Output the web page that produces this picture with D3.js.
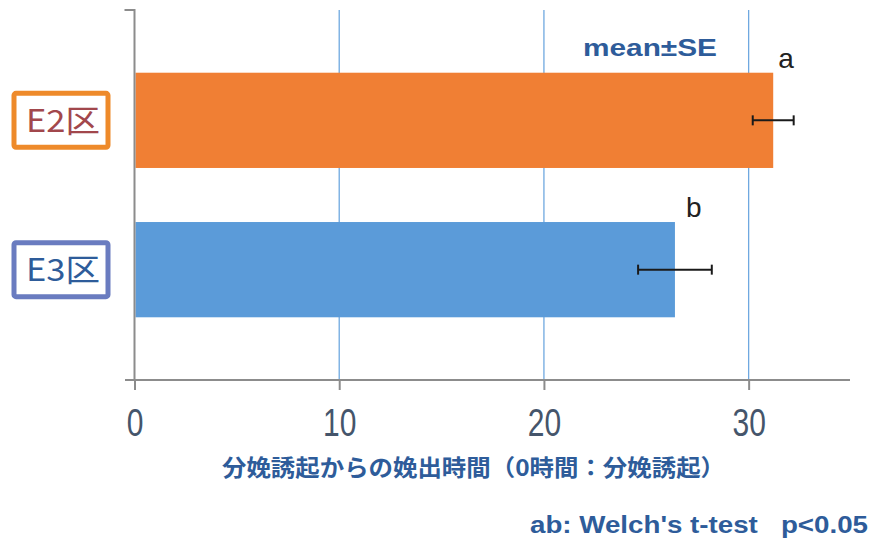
<!DOCTYPE html>
<html>
<head>
<meta charset="utf-8">
<script src="https://cdn.jsdelivr.net/npm/d3@7"></script>
<style>
  body { margin: 0; background: #fff; }
  svg { display: block; }
</style>
</head>
<body>
<svg id="chart" width="874" height="539"></svg>
<script>
// data
var categories = ["E2区", "E3区"],
  means = [31.2, 26.4],
  errors = [1.0, 1.8],
  letters = ["a", "b"],
  xTicks = [0, 10, 20, 30];

var barColors = ["#f07f34", "#5b9bd9"],
  boxColors = ["#ee8a2a", "#6a7cc0"],
  labelColors = ["#a2474c", "#2e5c9a"],
  cjk = "'Noto Sans CJK JP', 'Noto Sans', sans-serif";

var svg = d3.select("#chart"),
  plotTop = 10,
  plotBottom = 380,
  x = d3.scaleLinear().domain([0, 35]).range([134.5, 851]),
  y = d3.scaleBand()
    .domain(categories)
    .range([plotTop, plotBottom])
    .paddingInner(0.362)
    .paddingOuter(0.42);

// grid lines
svg.append("g")
  .selectAll("line")
  .data(xTicks.filter(function(d) { return d > 0; }))
  .enter().append("line")
  .attr("x1", function(d) { return x(d); })
  .attr("x2", function(d) { return x(d); })
  .attr("y1", plotTop)
  .attr("y2", plotBottom)
  .attr("stroke", "#6fa8e0")
  .attr("stroke-width", 1.3);

// bars
svg.append("g")
  .selectAll("rect")
  .data(categories)
  .enter().append("rect")
  .attr("x", x(0) + 1)
  .attr("y", function(d) { return y(d); })
  .attr("width", function(d, i) { return x(means[i]) - x(0) - 1; })
  .attr("height", y.bandwidth())
  .attr("fill", function(d, i) { return barColors[i]; });

// x axis
var xAxis = svg.append("g")
  .attr("transform", "translate(0," + plotBottom + ")")
  .call(d3.axisBottom(x).tickValues(xTicks).tickSize(10).tickSizeOuter(0));
xAxis.select(".domain").attr("stroke", "#8c8c8c").attr("stroke-width", 2)
  .attr("d", "M125,0H850");
xAxis.selectAll(".tick line").attr("stroke", "#8c8c8c").attr("stroke-width", 2);
// digits in the picture are drawn tall and narrow
xAxis.selectAll(".tick text")
  .attr("y", 0)
  .attr("dy", 0)
  .attr("transform", "translate(0,56) scale(1,1.3)")
  .attr("fill", "#45556b")
  .style("font-family", "'Liberation Sans', Arial, sans-serif")
  .style("font-size", "30px");

// y axis
var yAxis = svg.append("g")
  .attr("transform", "translate(" + x(0) + ",0)");
yAxis.append("path")
  .attr("d", "M-10," + plotTop + "H0V" + plotBottom)
  .attr("fill", "none")
  .attr("stroke", "#8c8c8c")
  .attr("stroke-width", 2);

// error bars
var eb = svg.append("g").attr("stroke", "#1a1a1a").attr("stroke-width", 2);
categories.forEach(function(c, i) {
  var cy = y(c) + y.bandwidth() / 2,
    x0 = x(means[i] - errors[i]),
    x1 = x(means[i] + errors[i]);
  eb.append("line").attr("x1", x0).attr("x2", x1).attr("y1", cy).attr("y2", cy);
  eb.append("line").attr("x1", x0).attr("x2", x0).attr("y1", cy - 5).attr("y2", cy + 5);
  eb.append("line").attr("x1", x1).attr("x2", x1).attr("y1", cy - 5).attr("y2", cy + 5);
});

// significance letters
svg.append("g")
  .selectAll("text")
  .data(letters)
  .enter().append("text")
  .attr("x", function(d, i) { return x(means[i]) + 5 + i * 6; })
  .attr("y", function(d, i) { return y(categories[i]) - 5; })
  .attr("fill", "#222")
  .style("font-family", "'Liberation Sans', Arial, sans-serif")
  .style("font-size", "28px")
  .text(function(d) { return d; });

// category labels in boxes
var lab = svg.append("g")
  .selectAll("g")
  .data(categories)
  .enter().append("g")
  .attr("transform", function(d) {
    return "translate(61," + (y(d) + y.bandwidth() / 2) + ")";
  });
lab.append("rect")
  .attr("x", -47)
  .attr("y", -27)
  .attr("width", 94)
  .attr("height", 54)
  .attr("rx", 2)
  .attr("fill", "#fff")
  .attr("stroke", function(d, i) { return boxColors[i]; })
  .attr("stroke-width", 5);
lab.append("text")
  .attr("text-anchor", "middle")
  .attr("x", 2)
  .attr("dy", "0.38em")
  .attr("fill", function(d, i) { return labelColors[i]; })
  .attr("textLength", 74)
  .attr("lengthAdjust", "spacingAndGlyphs")
  .style("font-family", cjk)
  .style("font-size", "31px")
  .text(function(d) { return d; });

// annotations
svg.append("text")
  .attr("x", 583).attr("y", 56)
  .attr("fill", "#2e5c9a")
  .attr("textLength", 134)
  .attr("lengthAdjust", "spacingAndGlyphs")
  .style("font-family", "'Liberation Sans', Arial, sans-serif")
  .style("font-weight", "bold")
  .style("font-size", "23px")
  .text("mean±SE");

svg.append("text")
  .attr("x", 222).attr("y", 476)
  .attr("fill", "#2e5c9a")
  .attr("textLength", 503)
  .attr("lengthAdjust", "spacingAndGlyphs")
  .style("font-family", cjk)
  .style("font-weight", "bold")
  .style("font-size", "23px")
  .text("分娩誘起からの娩出時間（0時間：分娩誘起）");

svg.append("text")
  .attr("x", 530).attr("y", 533)
  .attr("fill", "#2e5c9a")
  .attr("textLength", 338)
  .attr("lengthAdjust", "spacingAndGlyphs")
  .style("font-family", "'Liberation Sans', Arial, sans-serif")
  .style("font-weight", "bold")
  .style("font-size", "24px")
  .style("white-space", "pre")
  .text("ab: Welch's t-test   p<0.05");
</script>
</body>
</html>
